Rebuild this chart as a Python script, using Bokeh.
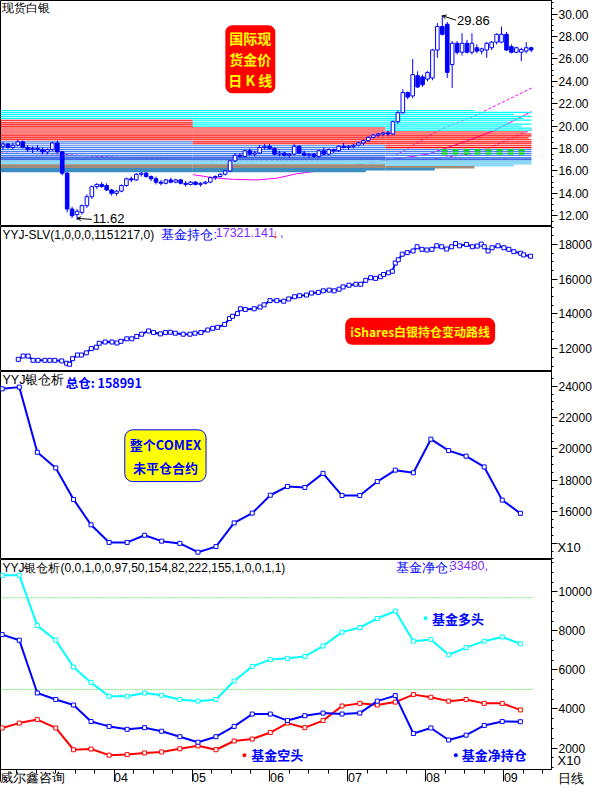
import numpy as np
from bokeh.plotting import figure
from bokeh.layouts import column
from bokeh.models import (Range1d, FixedTicker, NumeralTickFormatter, CustomJSTickFormatter,
                          Label, Arrow, OpenHead, ColumnDataSource, LinearAxis)
from bokeh.embed import file_html
from bokeh.resources import INLINE

# ---------------- data ----------------
# x axis in month units (04 ... 09)
month_ticks = [4, 5, 6, 7, 8, 9]
month_labels = ["04", "05", "06", "07", "08", "09"]

# daily silver spot candles
candle_open = [18.2, 18.4, 18.1, 18.3, 18.6, 18.1, 17.9, 18.0, 17.9, 17.7,
               17.9, 18.5, 17.7, 15.8, 12.6, 12.1, 12.3, 12.9, 13.7, 14.6,
               14.8, 14.7, 14.3, 14.0, 14.2, 14.7, 15.3, 15.2, 15.7, 15.8,
               15.5, 15.3, 15.0, 14.9, 15.2, 15.0, 15.2, 14.9, 14.8, 15.0,
               14.8, 14.9, 15.0, 15.4, 15.5, 15.7, 16.0, 16.9, 17.4, 17.3,
               17.8, 17.5, 17.6, 18.1, 18.2, 18.0, 17.5, 17.6, 17.4, 17.5,
               18.2, 17.6, 17.4, 17.5, 17.3, 17.8, 17.5, 17.9, 17.8, 18.2,
               18.1, 18.2, 18.3, 18.5, 18.7, 19.0, 19.2, 19.3, 19.4, 19.3,
               20.4, 21.2, 23.0, 22.7, 24.5, 24.4, 24.2, 24.3, 26.8, 28.9,
               29.1, 25.5, 27.4, 26.6, 27.4, 26.6, 27.0, 26.7, 26.8, 27.0,
               27.5, 27.5, 28.2, 27.1, 26.6, 26.6, 26.7, 27.0]
candle_high = [18.6, 18.5, 18.5, 18.8, 18.7, 18.3, 18.2, 18.3, 18.1, 18.0,
               18.6, 18.7, 17.8, 15.9, 12.8, 12.6, 13.0, 13.9, 14.7, 14.9,
               15.0, 14.9, 14.4, 14.3, 14.8, 15.4, 15.5, 15.8, 15.9, 15.9,
               15.6, 15.5, 15.2, 15.3, 15.4, 15.3, 15.3, 15.1, 15.1, 15.1,
               15.0, 15.1, 15.5, 15.6, 15.8, 16.1, 17.0, 17.6, 17.6, 17.9,
               18.0, 17.8, 18.3, 18.4, 18.4, 18.1, 17.8, 17.7, 17.6, 18.4,
               18.3, 17.8, 17.6, 17.6, 17.9, 18.1, 18.0, 18.0, 18.3, 18.5,
               18.3, 18.4, 18.6, 18.8, 19.1, 19.3, 19.4, 19.5, 19.6, 20.5,
               21.4, 23.3, 23.1, 26.0, 24.9, 24.6, 24.9, 26.9, 29.2, 29.86,
               29.3, 27.6, 27.6, 28.3, 27.7, 28.3, 27.3, 27.0, 27.5, 27.6,
               28.3, 28.9, 28.4, 27.3, 27.1, 27.0, 27.5, 27.1]
candle_low = [17.9, 18.0, 17.9, 18.2, 18.0, 17.7, 17.6, 17.8, 17.5, 17.5,
              17.8, 17.6, 15.6, 12.3, 11.8, 11.62, 12.1, 12.7, 13.5, 14.4,
              14.5, 14.2, 13.8, 13.8, 14.1, 14.6, 15.0, 15.1, 15.5, 15.4,
              15.1, 14.8, 14.7, 14.8, 14.9, 14.9, 14.8, 14.6, 14.7, 14.7,
              14.6, 14.8, 14.9, 15.2, 15.4, 15.6, 15.9, 16.8, 17.2, 17.2,
              17.4, 17.3, 17.5, 17.9, 17.9, 17.4, 17.3, 17.3, 17.2, 17.4,
              17.5, 17.3, 17.2, 17.2, 17.2, 17.4, 17.4, 17.6, 17.7, 18.0,
              17.9, 18.0, 18.2, 18.3, 18.6, 18.9, 19.0, 19.1, 19.1, 19.2,
              20.2, 21.1, 22.4, 22.5, 23.4, 23.5, 24.0, 24.1, 26.1, 28.1,
              24.3, 23.4, 26.4, 26.3, 26.5, 26.4, 26.5, 26.4, 26.1, 26.8,
              27.3, 27.4, 26.7, 26.5, 26.5, 25.8, 26.5, 26.6]
candle_close = [18.4, 18.1, 18.3, 18.6, 18.1, 17.9, 18.0, 17.9, 17.7, 17.9,
                18.5, 17.7, 15.8, 12.6, 12.0, 12.4, 12.9, 13.7, 14.6, 14.8,
                14.6, 14.3, 14.0, 14.2, 14.7, 15.3, 15.2, 15.7, 15.8, 15.5,
                15.3, 15.0, 14.9, 15.2, 15.0, 15.2, 14.9, 14.8, 15.0, 14.8,
                14.9, 15.0, 15.4, 15.5, 15.7, 16.0, 16.9, 17.4, 17.3, 17.8,
                17.5, 17.6, 18.1, 18.2, 18.0, 17.5, 17.6, 17.4, 17.5, 18.2,
                17.6, 17.4, 17.5, 17.3, 17.8, 17.5, 17.9, 17.8, 18.2, 18.1,
                18.2, 18.3, 18.5, 18.7, 19.0, 19.2, 19.3, 19.4, 19.3, 20.4,
                21.2, 23.0, 22.6, 24.6, 23.5, 23.7, 24.8, 26.8, 28.9, 28.2,
                24.8, 27.4, 26.6, 27.4, 26.6, 27.4, 26.7, 26.9, 27.4, 27.5,
                28.2, 28.2, 26.8, 26.6, 27.0, 26.85, 27.0, 26.8]
candle_first_day = 2.576
candle_day_step = 0.0633
price_ticks = [12, 14, 16, 18, 20, 22, 24, 26, 28, 30]

# chip (cost) distribution rows: price level and how far right the row reaches
chip_price = [21.40, 21.23, 21.05, 20.88, 20.70, 20.53, 20.35, 20.18, 20.00, 19.83,
              19.65, 19.48, 19.30, 19.13, 18.95, 18.78, 18.60, 18.43, 18.25, 18.08,
              17.90, 17.73, 17.55, 17.38, 17.20, 17.03, 16.85, 16.68, 16.50, 16.33,
              16.15, 15.98]
chip_end = [8.62, 9.354, 9.126, 9.354, 9.253, 9.354, 9.063, 9.354, 9.228, 9.354,
            9.354, 9.278, 9.354, 9.354, 9.316, 9.354, 9.354, 9.354, 9.354, 9.354,
            9.354, 9.354, 9.354, 9.354, 9.354, 9.354, 9.354, 9.354, 9.126, 8.62,
            8.114, 7.228]
chip_age_breaks = [5.01, 7.48]
recent_chip_price = [17.85, 17.55]
recent_chip_span = [8.20, 9.30]

# moving averages
ma_long_x = [5.012, 5.266, 5.519, 5.835, 6.088, 6.342, 6.848, 7.354, 8.025, 8.494, 8.873, 9.354]
ma_long_y = [15.67, 15.40, 15.25, 15.20, 15.35, 15.75, 16.20, 16.80, 17.50, 18.60, 19.60, 21.30]
ma_mid_x = [2.544, 3.304, 4.063, 5.012, 5.709, 6.342, 6.975, 7.569, 7.861, 8.152, 8.646, 9.354]
ma_mid_y = [17.6, 17.5, 17.2, 17.0, 16.9, 16.95, 17.0, 17.2, 18.4, 19.6, 21.0, 23.4]
ma3_x = [8.114, 8.658, 9.354]
ma3_y = [17.1, 17.6, 19.7]

# iShares SLV holdings
slv_x = [2.772, 2.835, 2.898, 2.962, 3.025, 3.114, 3.177, 3.240, 3.329, 3.392,
         3.430, 3.468, 3.531, 3.582, 3.645, 3.709, 3.772, 3.810, 3.886, 3.974,
         4.038, 4.088, 4.164, 4.228, 4.291, 4.354, 4.443, 4.506, 4.595, 4.658,
         4.721, 4.785, 4.886, 4.974, 5.038, 5.114, 5.202, 5.266, 5.329, 5.418,
         5.481, 5.519, 5.582, 5.620, 5.683, 5.797, 5.873, 5.924, 6.000, 6.088,
         6.177, 6.240, 6.316, 6.380, 6.468, 6.531, 6.620, 6.683, 6.759, 6.823,
         6.886, 6.937, 7.013, 7.101, 7.164, 7.228, 7.291, 7.354, 7.418, 7.456,
         7.519, 7.569, 7.607, 7.645, 7.696, 7.759, 7.835, 7.886, 7.949, 8.012,
         8.076, 8.139, 8.202, 8.266, 8.329, 8.380, 8.430, 8.519, 8.595, 8.658,
         8.709, 8.747, 8.797, 8.848, 8.924, 9.000, 9.063, 9.127, 9.215, 9.253,
         9.342]
slv_hold = [11386, 11577, 11577, 11329, 11329, 11329, 11329, 11329, 11296, 11160,
            11104, 11425, 11634, 11634, 11763, 12005, 12084, 12310, 12383, 12383,
            12327, 12422, 12569, 12569, 12704, 12834, 13020, 12929, 12850, 12929,
            12946, 12890, 12834, 12834, 12890, 12929, 13076, 13172, 13228, 13397,
            13735, 13865, 14017, 14298, 14259, 14298, 14394, 14524, 14766, 14766,
            14732, 14862, 14991, 15048, 15087, 15200, 15239, 15329, 15369, 15329,
            15425, 15555, 15651, 15707, 15707, 15932, 16084, 16045, 16141, 16270,
            16366, 16456, 16930, 17115, 17437, 17527, 17623, 17865, 17718, 17679,
            17718, 17921, 17865, 17735, 17865, 18056, 17921, 18000, 17865, 17904,
            18017, 17865, 17623, 17808, 17921, 17808, 17718, 17583, 17493, 17397,
            17321]
slv_ticks = [12000, 14000, 16000, 18000]

# weekly COMEX commitments (x10 contracts)
cot_x = [2.566, 2.785, 3.016, 3.253, 3.481, 3.705, 3.937, 4.168, 4.392, 4.611,
         4.844, 5.076, 5.307, 5.540, 5.772, 6.004, 6.224, 6.447, 6.680, 6.924,
         7.152, 7.376, 7.607, 7.839, 8.063, 8.291, 8.515, 8.747, 8.978, 9.211]
comex_oi = [23832, 23938, 19789, 18794, 16785, 15168, 14048, 14048, 14502, 14129,
            13986, 13426, 13781, 15292, 15914, 17052, 17612, 17550, 18446, 17034,
            17034, 17923, 18651, 18483, 20623, 19895, 19540, 18856, 16741, 15899]
fund_long = [10847, 10847, 8272, 7525, 6145, 5349, 4651, 4651, 4821, 4701,
             4487, 4402, 4487, 5433, 6180, 6529, 6594, 6693, 7226, 7938,
             8172, 8635, 9019, 7475, 7560, 6778, 7141, 7475, 7689, 7341]
fund_short = [3028, 3277, 3456, 3028, 1912, 1947, 1634, 1663, 1748, 1798,
              1962, 2112, 1912, 2361, 2460, 2794, 3277, 3043, 3406, 4153,
              4288, 4203, 4353, 4736, 4602, 4402, 4487, 4288, 4288, 3954]
fund_net = [7809, 7525, 4821, 4487, 4203, 3357, 3108, 2958, 3043, 2859,
            2580, 2296, 2580, 3108, 3740, 3740, 3406, 3655, 3790, 3740,
            3790, 4402, 4686, 2744, 3028, 2410, 2659, 3157, 3357, 3348]
oi_ticks = [14000, 16000, 18000, 20000, 22000, 24000]
net_ticks = [2000, 4000, 6000, 8000, 10000]
ref_levels = [9700, 5000]

# ---------------- layout ----------------
FW = 551          # frame width (reference 558 px)
RB = 41           # right axis width
SX = FW / 558.0
XR = Range1d(2.544, 9.61)
BLUE = "#0000FF"
CYAN = "#00FFFF"
RED = "#FF0000"
MAG = "#FF00FF"
LAT = "Liberation Sans"
CJK = "Noto Sans CJK SC"


def make_fig(fh, yr, ticks, step_minor, fmt, xaxis=False):
    p = figure(frame_width=FW, frame_height=fh, x_range=XR, y_range=Range1d(*yr),
               output_backend="svg", toolbar_location=None,
               y_axis_location="right", x_axis_location="below" if xaxis else None,
               min_border_left=0, min_border_right=RB, min_border_top=0,
               min_border_bottom=15 if xaxis else 0,
               background_fill_color="white", border_fill_color="white")
    p.outline_line_color = "black"
    p.outline_line_width = 1
    p.grid.visible = False
    ax = p.yaxis[0]
    minor = list(np.arange(ticks[0] - 8 * step_minor, ticks[-1] + 4 * step_minor, step_minor))
    ax.ticker = FixedTicker(ticks=ticks, minor_ticks=minor)
    ax.formatter = NumeralTickFormatter(format=fmt)
    ax.major_tick_out = 6
    ax.major_tick_in = 0
    ax.minor_tick_out = 2
    ax.minor_tick_in = 0
    ax.major_label_standoff = 1
    ax.major_label_text_font = LAT
    ax.major_label_text_font_size = "12px"
    ax.major_label_text_color = "black"
    ax.axis_line_color = "black"
    return p


def add_text(p, fh, sy, xr, yr, text, size=12, color="black", font=LAT, style="normal",
             align="left", baseline="top", **kw):
    p.add_layout(Label(x=xr * SX, y=fh - yr * sy, x_units="screen", y_units="screen",
                       text=text, text_font=font, text_font_size=f"{size}px",
                       text_color=color, text_font_style=style, text_align=align,
                       text_baseline=baseline, **kw))


def margin_note(p, value, text):
    """Scale / period note written in the right axis margin at a given height."""
    ax = LinearAxis(ticker=FixedTicker(ticks=[value]),
                    formatter=CustomJSTickFormatter(args=dict(s=text), code="return s;"),
                    axis_line_color=None, major_tick_line_color=None,
                    minor_tick_line_color=None, major_tick_out=0, major_tick_in=0,
                    minor_tick_out=0, minor_tick_in=0, major_label_standoff=-37,
                    major_label_text_font=LAT, major_label_text_font_size="13px",
                    major_label_text_color="black")
    p.add_layout(ax, "right")


# ---------- panel 1: spot silver ----------
H1 = 226
SY1 = H1 / 231.0
p1 = make_fig(H1, (11.04, 31.22), price_ticks, 0.5, "0.00")

# moving averages (below the chip bands)
p1.line(ma_long_x, ma_long_y, line_color=MAG, line_width=1)
p1.line(ma_mid_x, ma_mid_y, line_color=MAG, line_width=1, line_dash="3 2")
p1.line(ma3_x, ma3_y, line_color=MAG, line_width=1, line_dash="3 2")

# chip distribution
CH_CY, CH_RD, CH_BL, CH_BD, CH_LT, CH_BR, CH_TL = (
    "#00FFFF", "#FF0000", "#4A84F2", "#3F6AE4", "#86D6F4", "#A08C78", "#3A8EC0")
zones = [
    [(20.6, CH_CY), (18.7, CH_RD), (17.3, CH_BL), (17.0, CH_BD), (16.6, CH_LT), (16.3, CH_BR), (-1, CH_TL)],
    [(19.9, CH_CY), (18.35, CH_RD), (17.3, CH_BL), (17.0, CH_BD), (16.6, CH_LT), (16.3, CH_BR), (-1, CH_TL)],
    [(19.5, CH_CY), (17.95, CH_RD), (17.1, CH_BL), (16.95, CH_BD), (16.4, CH_LT), (16.25, CH_BR), (-1, CH_TL)],
]
widths = {CH_CY: 1.2, CH_RD: 1.1, CH_BL: 1.2, CH_BD: 2.2, CH_LT: 2.3, CH_BR: 2.3, CH_TL: 2.3}
cx0, cx1, cy, cc, cw = [], [], [], [], []
starts = [XR.start] + chip_age_breaks
for pr, end in zip(chip_price, chip_end):
    stops = chip_age_breaks + [end]
    for k in range(3):
        a, b = starts[k], min(stops[k], end)
        if b <= a:
            continue
        col = next(c for t, c in zones[k] if pr >= t)
        cx0.append(a); cx1.append(b); cy.append(pr); cc.append(col); cw.append(widths[col])
chip_src = ColumnDataSource(dict(x0=cx0, x1=cx1, y=cy, c=cc, w=cw))
p1.segment(x0="x0", y0="y", x1="x1", y1="y", line_color="c", line_width="w", source=chip_src)
for pr in recent_chip_price:
    p1.segment(x0=[recent_chip_span[0]], y0=[pr], x1=[recent_chip_span[1]], y1=[pr],
               line_color="#00E000", line_width=2, line_dash="6 5")

# candles
n = len(candle_open)
candle_x = [candle_first_day + candle_day_step * i for i in range(n)]
top = [max(o, c) for o, c in zip(candle_open, candle_close)]
bot = [min(o, c) for o, c in zip(candle_open, candle_close)]
fill = ["white" if c >= o else BLUE for o, c in zip(candle_open, candle_close)]
csrc = ColumnDataSource(dict(x=candle_x, h=candle_high, l=candle_low, t=top, b=bot, f=fill))
p1.segment(x0="x", y0="h", x1="x", y1="l", source=csrc, line_color=BLUE, line_width=1)
p1.vbar(x="x", width=0.046, top="t", bottom="b", fill_color="f", line_color=BLUE,
        line_width=1, source=csrc)

# extreme markers
i_lo = int(np.argmin(candle_low))
i_hi = int(np.argmax(candle_high))
p1.add_layout(Arrow(end=OpenHead(size=4, line_color="black", line_width=1),
                    x_start=candle_x[i_lo] + 15 / 79, y_start=candle_low[i_lo] + 0.05,
                    x_end=candle_x[i_lo], y_end=candle_low[i_lo] + 0.15,
                    line_color="black", line_width=1))
p1.add_layout(Label(x=candle_x[i_lo], y=candle_low[i_lo], x_offset=16 * SX, y_offset=1.5,
                    text=f"{candle_low[i_lo]:.2f}", text_font=LAT, text_font_size="13px",
                    text_baseline="middle", text_color="black"))
p1.add_layout(Arrow(end=OpenHead(size=4, line_color="black", line_width=1),
                    x_start=candle_x[i_hi] + 14 / 79, y_start=candle_high[i_hi] - 0.4,
                    x_end=candle_x[i_hi], y_end=candle_high[i_hi],
                    line_color="black", line_width=1))
p1.add_layout(Label(x=candle_x[i_hi], y=candle_high[i_hi], x_offset=15 * SX, y_offset=-5,
                    text=f"{candle_high[i_hi]:.2f}", text_font=LAT, text_font_size="13px",
                    text_baseline="middle", text_color="black"))

add_text(p1, H1, SY1, 2, 1, "现货白银", size=12)
add_text(p1, H1, SY1, 253, 60, "国际现\n货金价\n日 K 线", size=14, color="#FFFF00", font=CJK,
         style="bold", align="center", baseline="middle", background_fill_color=RED,
         border_radius=7, padding=3, text_line_height=1.05)

# ---------- panel 2: SLV holdings ----------
H2 = 145
SY2 = H2 / 148.0
p2 = make_fig(H2, (10687, 19031), slv_ticks, 500, "0")
p2.line(slv_x, slv_hold, line_color=BLUE, line_width=2)
p2.scatter(slv_x, slv_hold, marker="square", size=4, line_color=BLUE, fill_color="white",
           line_width=1)
add_text(p2, H2, SY2, 2, 2, "YYJ-SLV(1,0,0,0,1151217,0)", size=12)
add_text(p2, H2, SY2, 163, 2, "基金持仓:", size=12.5, color=BLUE)
add_text(p2, H2, SY2, 218, 2, "17321.141", size=12.5, color="#7A2CFF")
add_text(p2, H2, SY2, 275, 1, "↓", size=12.5, color=RED)
add_text(p2, H2, SY2, 283, 2, ",", size=12.5, color="#7A2CFF")
add_text(p2, H2, SY2, 425, 107, "iShares白银持仓变动路线", size=12, color="#FFFF00", font=CJK,
         style="bold", align="center", baseline="middle", background_fill_color=RED,
         border_radius=7, padding=5)

# ---------- panel 3: COMEX open interest ----------
H3 = 188
SY3 = H3 / 192.0
p3 = make_fig(H3, (12960, 24933), oi_ticks, 500, "0")
# lowest tick label sits behind the scale note, as in the source chart
p3.yaxis[0].formatter = CustomJSTickFormatter(code="return tick < 15000 ? '' : tick.toFixed(0);")
p3.line(cot_x, comex_oi, line_color=BLUE, line_width=2)
p3.scatter(cot_x, comex_oi, marker="square", size=4, line_color=BLUE, fill_color="white",
           line_width=1)
add_text(p3, H3, SY3, 2, 2, "YYJ银仓析", size=12.5)
add_text(p3, H3, SY3, 66, 2, "总仓: 158991", size=12.5, color=BLUE, font=CJK, style="bold")
add_text(p3, H3, SY3, 167, 86, "整个COMEX\n未平仓合约", size=13, color=BLUE, font=CJK,
         style="bold", align="center", baseline="middle", background_fill_color="#FFFF00",
         border_line_color=BLUE, border_radius=8, padding=5, text_line_height=1.2)
margin_note(p3, 13700, "X10")

# ---------- panel 4: fund positions ----------
H4 = 210
SY4 = H4 / 215.0
p4 = make_fig(H4, (900, 11658), net_ticks, 500, "0", xaxis=True)
for lv in ref_levels:
    p4.segment(x0=[XR.start], y0=[lv], x1=[cot_x[-1] + 0.17], y1=[lv],
               line_color="#00DD00", line_width=1, line_dash="1 2")
for series, col in ((fund_long, CYAN), (fund_short, RED), (fund_net, BLUE)):
    p4.line(cot_x, series, line_color=col, line_width=2)
    p4.scatter(cot_x, series, marker="square", size=4, line_color=col, fill_color="white",
               line_width=1)
add_text(p4, H4, SY4, 2, 2, "YYJ银仓析(0,0,1,0,0,97,50,154,82,222,155,1,0,0,1,1)", size=12)
add_text(p4, H4, SY4, 401, 2, "基金净仓:", size=12.5, color=BLUE)
add_text(p4, H4, SY4, 455, 2, "33480,", size=12.5, color="#7A2CFF")
add_text(p4, H4, SY4, 430, 60, "●", size=9, color=CYAN, align="center", baseline="middle")
add_text(p4, H4, SY4, 437, 60, "基金多头", size=13, color=BLUE, font=CJK, style="bold",
         baseline="middle")
add_text(p4, H4, SY4, 247, 200, "●", size=9, color=RED, align="center", baseline="middle")
add_text(p4, H4, SY4, 254, 200, "基金空头", size=13, color=BLUE, font=CJK, style="bold",
         baseline="middle")
add_text(p4, H4, SY4, 461, 200, "●", size=9, color=BLUE, align="center", baseline="middle")
add_text(p4, H4, SY4, 467, 200, "基金净持仓", size=13, color=BLUE, font=CJK, style="bold",
         baseline="middle")
margin_note(p4, 900, "X10\n日线")

xa = p4.xaxis[0]
axis_ticks = [XR.start] + month_ticks
axis_labels = ["威尔鑫咨询"] + month_labels
xa.ticker = FixedTicker(ticks=axis_ticks,
                        minor_ticks=[m + q * 0.25 for m in range(2, 10) for q in range(4)])
xa.formatter = CustomJSTickFormatter(
    args=dict(t=axis_ticks, l=axis_labels),
    code="for (let i = 0; i < t.length; i++) { if (Math.abs(t[i] - tick) < 1e-6) return l[i]; } return '';")
xa.major_label_orientation = -0.0001
xa.major_label_text_font = LAT
xa.major_label_text_font_size = "12.5px"
xa.major_label_text_color = "black"
xa.major_label_standoff = -4
xa.major_tick_out = 12
xa.major_tick_in = 0
xa.minor_tick_out = 4
xa.minor_tick_in = 0
xa.axis_line_color = "black"

layout = column(p1, p2, p3, p4, spacing=0)
open("out.html", "w").write(file_html(layout, INLINE))
